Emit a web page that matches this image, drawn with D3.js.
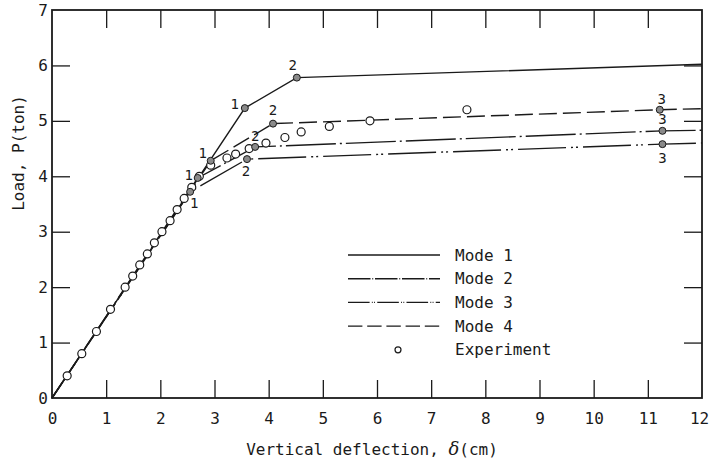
<!DOCTYPE html>
<html lang="en">
<head>
  <meta charset="utf-8">
  <title>Load-deflection</title>
  <style>
    body { margin: 0; background: #fff; }
    text { font-family: "DejaVu Sans Mono", "Liberation Mono", monospace; fill: #1a1a1a; }
  </style>
</head>
<body>
  <div id="chart"></div>
  <script src="https://cdnjs.cloudflare.com/ajax/libs/d3/7.8.5/d3.min.js"></script>
  <script>
    // tick labels
    const xTickLabels = [0, 1, 2, 3, 4, 5, 6, 7, 8, 9, 10, 11, 12];
    const yTickLabels = [0, 1, 2, 3, 4, 5, 6, 7];

    // experiment points
    const expX = [0.28, 0.55, 0.82, 1.08, 1.35, 1.49, 1.62, 1.76, 1.89, 2.03, 2.18, 2.31, 2.44, 2.58, 2.72,
                  2.93, 3.23, 3.39, 3.64, 3.95, 4.3, 4.6, 5.12, 5.87, 7.66];
    const expY = [0.4, 0.8, 1.2, 1.6, 2.0, 2.2, 2.4, 2.6, 2.8, 3.0, 3.2, 3.4, 3.6, 3.8, 4.0,
                  4.2, 4.33, 4.4, 4.5, 4.6, 4.7, 4.8, 4.9, 5.0, 5.2];

    // analytical modes (vertices; hinge points are the inner ones)
    const modeNames = ["Mode 1", "Mode 2", "Mode 3", "Mode 4"];
    const mode1X = [0, 3.56, 4.52, 12];
    const mode1Y = [0, 5.23, 5.78, 6.02];
    const mode2X = [0, 2.69, 3.75, 11.27, 12];
    const mode2Y = [0, 3.97, 4.53, 4.82, 4.83];
    const mode3X = [0, 2.55, 3.60, 11.27, 12];
    const mode3Y = [0, 3.72, 4.31, 4.58, 4.60];
    const mode4X = [0, 2.93, 4.08, 11.22, 12];
    const mode4Y = [0, 4.28, 4.95, 5.20, 5.22];
    const hingeLabels = ["1", "2", "3"];

    const width = 710, height = 464;
    const margin = { top: 10, right: 8, bottom: 66, left: 52 };

    const x = d3.scaleLinear().domain([0, 12]).range([margin.left, width - margin.right]);
    const y = d3.scaleLinear().domain([0, 7]).range([height - margin.bottom, margin.top]);

    const svg = d3.select("#chart").append("svg")
      .attr("width", width)
      .attr("height", height);

    const ink = "#1a1a1a";
    const tickLen = 18;

    // axes, ticks point inward on all four sides
    const inner = xTickLabels.filter(d => d > 0 && d < 12);
    const innerY = yTickLabels.filter(d => d > 0 && d < 7);

    const gx = svg.append("g")
      .attr("transform", `translate(0,${y(0)})`)
      .call(d3.axisBottom(x).tickValues(xTickLabels).tickFormat(d3.format("d"))
        .tickSize(-tickLen).tickPadding(15));
    gx.selectAll(".tick line").filter(d => d === 0 || d === 12).remove();
    gx.selectAll(".tick text").filter(d => d === 12).attr("dx", -3);

    const gy = svg.append("g")
      .attr("transform", `translate(${x(0)},0)`)
      .call(d3.axisLeft(y).tickValues(yTickLabels).tickFormat(d3.format("d"))
        .tickSize(-tickLen).tickPadding(4));
    gy.selectAll(".tick line").filter(d => d === 0 || d === 7).remove();

    svg.append("g")
      .attr("transform", `translate(0,${y(7)})`)
      .call(d3.axisTop(x).tickValues(inner).tickSize(-tickLen).tickFormat(""));
    svg.append("g")
      .attr("transform", `translate(${x(12)},0)`)
      .call(d3.axisRight(y).tickValues(innerY).tickSize(-tickLen).tickFormat(""));

    svg.selectAll(".domain").remove();
    svg.selectAll(".tick line").attr("stroke", ink).attr("stroke-width", 1.3);
    svg.selectAll(".tick text")
      .style("font-size", "16px")
      .attr("fill", ink);

    svg.append("rect")
      .attr("x", x(0)).attr("y", y(7))
      .attr("width", x(12) - x(0)).attr("height", y(0) - y(7))
      .attr("fill", "none").attr("stroke", ink).attr("stroke-width", 1.8);

    // axis titles
    const xt = svg.append("text")
      .attr("x", 372).attr("y", 455)
      .attr("text-anchor", "middle")
      .style("font-size", "16px");
    xt.append("tspan").text("Vertical deflection, ");
    xt.append("tspan").text("δ").style("font-style", "italic").style("font-family", "DejaVu Serif").style("font-size", "18px");
    xt.append("tspan").text("(cm)");

    svg.append("text")
      .attr("transform", "translate(24,153) rotate(-90)")
      .attr("text-anchor", "middle")
      .style("font-size", "16px")
      .text("Load, P(ton)");

    // curves
    const dashes = ["none", "50,4,2,4", "48,5,2,3,2,5", "18,6"];
    const modes = [
      { name: modeNames[0], xs: mode1X, ys: mode1Y },
      { name: modeNames[1], xs: mode2X, ys: mode2Y },
      { name: modeNames[2], xs: mode3X, ys: mode3Y },
      { name: modeNames[3], xs: mode4X, ys: mode4Y }
    ];
    // label offsets (px) for hinge numbers, per mode
    const labelOff = [
      [[-10, -4], [-4, -13]],
      [[-9, -3], [0, -11], [0, -12]],
      [[4, 11], [-1, 12], [0, 14]],
      [[-8, -8], [0, -14], [2, -11]]
    ];

    const line = d3.line().x(d => x(d[0])).y(d => y(d[1]));

    modes.forEach((m, i) => {
      const pts = m.xs.map((v, k) => [v, m.ys[k]]);
      svg.append("path")
        .datum(pts)
        .attr("d", line)
        .attr("fill", "none")
        .attr("stroke", ink)
        .attr("stroke-width", 1.4)
        .attr("stroke-dasharray", dashes[i]);
    });

    // experiment circles
    svg.append("g").selectAll("circle")
      .data(expX.map((v, k) => [v, expY[k]]))
      .join("circle")
      .attr("cx", d => x(d[0]))
      .attr("cy", d => y(d[1]))
      .attr("r", 4)
      .attr("fill", "#fff")
      .attr("stroke", ink)
      .attr("stroke-width", 1.2);

    // hinge markers and numbers
    modes.forEach((m, i) => {
      const hinges = m.xs.map((v, k) => [v, m.ys[k]]).slice(1, m.xs.length - 1);
      hinges.forEach((h, k) => {
        svg.append("circle")
          .attr("cx", x(h[0])).attr("cy", y(h[1]))
          .attr("r", 3.5)
          .attr("fill", "#8a8a8a")
          .attr("stroke", ink)
          .attr("stroke-width", 1);
        const off = labelOff[i][k];
        svg.append("text")
          .attr("x", x(h[0]) + off[0])
          .attr("y", y(h[1]) + off[1])
          .attr("text-anchor", "middle")
          .attr("dominant-baseline", "central")
          .style("font-size", "14px")
          .text(hingeLabels[k]);
      });
    });

    // legend
    const legend = svg.append("g");
    const rowY = d => 255 + d * 23.7;
    modeNames.forEach((n, i) => {
      legend.append("line")
        .attr("x1", 348).attr("x2", 440)
        .attr("y1", rowY(i)).attr("y2", rowY(i))
        .attr("stroke", ink).attr("stroke-width", 1.4)
        .attr("stroke-dasharray", dashes[i] === "none" ? null : dashes[i].split(",").map(v => i === 3 ? v * 0.8 : v * 0.45).join(","));
      legend.append("text")
        .attr("x", 455).attr("y", rowY(i))
        .attr("dominant-baseline", "central")
        .style("font-size", "16px")
        .text(n);
    });
    legend.append("circle")
      .attr("cx", 398).attr("cy", rowY(4)).attr("r", 3)
      .attr("fill", "#fff").attr("stroke", ink).attr("stroke-width", 1.2);
    legend.append("text")
      .attr("x", 455).attr("y", rowY(4))
      .attr("dominant-baseline", "central")
      .style("font-size", "16px")
      .text("Experiment");
  </script>
</body>
</html>
